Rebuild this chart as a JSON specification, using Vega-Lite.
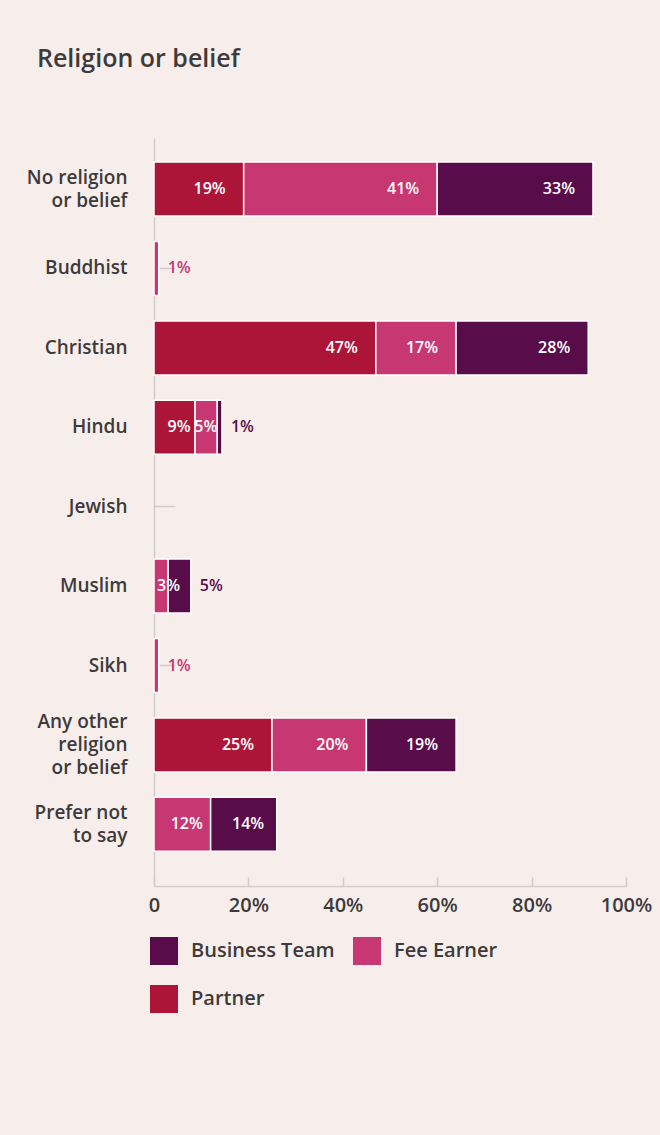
{
  "$schema": "https://vega.github.io/schema/vega-lite/v6.json",
  "width": 472,
  "height": 748,
  "autosize": {"type": "none"},
  "padding": {"left": 154, "top": 138, "right": 34, "bottom": 249},
  "background": "#f7eeec",
  "title": {"text": "Religion or belief", "anchor": "start", "frame": "group", "dx": -117, "offset": 66, "fontSize": 25, "fontWeight": 600, "color": "#3d3a3a", "font": "Open Sans"},
  "data": {
    "values": [
      {"category": "No religion or belief", "type": "Partner", "value": 0.19},
      {"category": "No religion or belief", "type": "Fee Earner", "value": 0.41},
      {"category": "No religion or belief", "type": "Business Team", "value": 0.33},
      {"category": "Buddhist", "type": "Fee Earner", "value": 0.01},
      {"category": "Christian", "type": "Partner", "value": 0.47},
      {"category": "Christian", "type": "Fee Earner", "value": 0.17},
      {"category": "Christian", "type": "Business Team", "value": 0.28},
      {"category": "Hindu", "type": "Partner", "value": 0.087},
      {"category": "Hindu", "type": "Fee Earner", "value": 0.047},
      {"category": "Hindu", "type": "Business Team", "value": 0.01},
      {"category": "Muslim", "type": "Fee Earner", "value": 0.03},
      {"category": "Muslim", "type": "Business Team", "value": 0.048},
      {"category": "Sikh", "type": "Fee Earner", "value": 0.01},
      {"category": "Any other religion or belief", "type": "Partner", "value": 0.25},
      {"category": "Any other religion or belief", "type": "Fee Earner", "value": 0.2},
      {"category": "Any other religion or belief", "type": "Business Team", "value": 0.19},
      {"category": "Prefer not to say", "type": "Fee Earner", "value": 0.12},
      {"category": "Prefer not to say", "type": "Business Team", "value": 0.14}
    ]
  },
  "transform": [
    {"stack": "value", "groupby": ["category"], "sort": [{"field": "type", "order": "descending"}], "as": ["x0", "x1"]},
    {"joinaggregate": [{"op": "max", "field": "x1", "as": "rowEnd"}], "groupby": ["category"]},
    {"calculate": "datum.x1 == datum.rowEnd && datum.value <= 0.05", "as": "outside"},
    {"calculate": "length(format(datum.value, '.0%')) * 9 + 5", "as": "lw"},
    {"calculate": "min(18, max(0, ((datum.x1 - datum.x0) * 472 - datum.lw) / 2 - 4.5))", "as": "pad"},
    {"calculate": "max(datum.x1 * 472 - datum.pad, datum.lw + 3) / 472", "as": "lx"}
  ],
  "encoding": {
    "y": {
      "field": "category",
      "type": "nominal",
      "sort": ["No religion or belief", "Buddhist", "Christian", "Hindu", "Jewish", "Muslim", "Sikh", "Any other religion or belief", "Prefer not to say"],
      "scale": {"domain": ["No religion or belief", "Buddhist", "Christian", "Hindu", "Jewish", "Muslim", "Sikh", "Any other religion or belief", "Prefer not to say"], "paddingInner": 0.32, "paddingOuter": 0.37, "align": 0.41},
      "axis": {
        "title": null,
        "labelExpr": "datum.label == 'No religion or belief' ? ['No religion', 'or belief'] : datum.label == 'Any other religion or belief' ? ['Any other', 'religion', 'or belief'] : datum.label == 'Prefer not to say' ? ['Prefer not', 'to say'] : datum.label",
        "labelFont": "Open Sans",
        "labelFontSize": 19,
        "labelFontWeight": 600,
        "labelColor": "#3d3a3a",
        "labelLineHeight": 23,
        "labelPadding": 48,
        "labelAlign": "right",
        "labelBaseline": "middle",
        "labelLimit": 200,
        "labelOffset": {"expr": "datum.value == 'Any other religion or belief' ? -23 : (datum.value == 'No religion or belief' || datum.value == 'Prefer not to say') ? -11.5 : 0"},
        "domainColor": "#d3cbc9",
        "domainWidth": 1.5,
        "tickColor": "#d3cbc9",
        "tickWidth": 1.5,
        "tickSize": -21
      }
    }
  },
  "layer": [
    {
      "mark": {"type": "bar", "stroke": "#ffffff", "strokeWidth": 1.5},
      "encoding": {
        "x": {
          "field": "x0",
          "type": "quantitative",
          "scale": {"domain": [0, 1], "nice": false},
          "axis": {
            "title": null,
            "values": [0, 0.2, 0.4, 0.6, 0.8, 1],
            "labelExpr": "datum.value == 0 ? '0' : format(datum.value, '.0%')",
            "labelFont": "Open Sans",
            "labelFontSize": 20,
            "labelFontWeight": 600,
            "labelColor": "#3d3a3a",
            "labelPadding": 18,
            "labelFlush": false,
            "grid": false,
            "domainColor": "#d3cbc9",
            "domainWidth": 1.5,
            "tickColor": "#d3cbc9",
            "tickWidth": 1.5,
            "tickSize": -9
          }
        },
        "x2": {"field": "x1"},
        "color": {
          "field": "type",
          "type": "nominal",
          "scale": {"domain": ["Business Team", "Fee Earner", "Partner"], "range": ["#580d4a", "#c73771", "#ad1538"]},
          "legend": {
            "title": null,
            "orient": "none",
            "legendX": -4,
            "legendY": 799,
            "direction": "horizontal",
            "columns": 2,
            "symbolType": "square",
            "symbolSize": 784,
            "symbolStrokeWidth": 0,
            "symbolOpacity": 1,
            "labelFont": "Open Sans",
            "labelFontSize": 20,
            "labelFontWeight": 600,
            "labelColor": "#3d3a3a",
            "labelOffset": 13,
            "rowPadding": 20,
            "columnPadding": 18,
            "labelLimit": 300
          }
        }
      }
    },
    {
      "transform": [{"filter": "!datum.outside"}],
      "mark": {"type": "text", "align": "right", "baseline": "middle", "color": "#ffffff", "font": "Open Sans", "fontSize": 16, "fontWeight": 600},
      "encoding": {
        "x": {"field": "lx", "type": "quantitative"},
        "text": {"field": "value", "type": "quantitative", "format": ".0%"}
      }
    },
    {
      "transform": [{"filter": "datum.outside"}],
      "mark": {"type": "text", "align": "left", "baseline": "middle", "dx": 9, "font": "Open Sans", "fontSize": 16, "fontWeight": 600},
      "encoding": {
        "x": {"field": "x1", "type": "quantitative"},
        "text": {"field": "value", "type": "quantitative", "format": ".0%"},
        "color": {"condition": {"test": "datum.type == 'Fee Earner'", "value": "#c73771"}, "value": "#580d4a"}
      }
    }
  ],
  "config": {"view": {"stroke": null}, "font": "Open Sans"}
}
